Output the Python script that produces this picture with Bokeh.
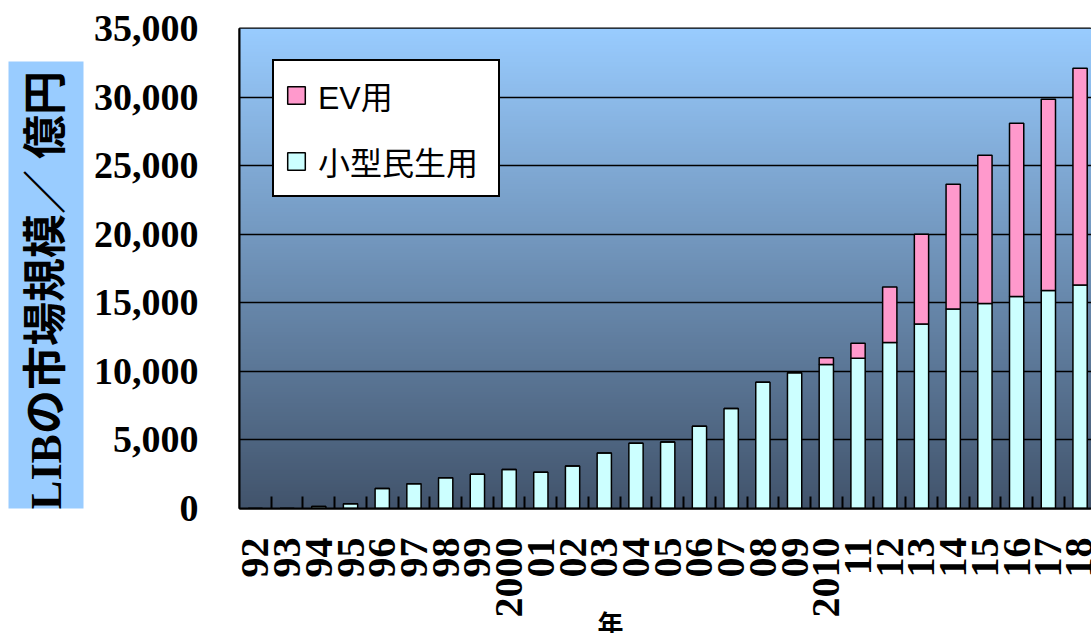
import numpy as np
from math import pi
from bokeh.plotting import figure
from bokeh.layouts import row
from bokeh.models import Range1d, FixedTicker, NumeralTickFormatter, Legend, LegendItem, ColumnDataSource, Title
from bokeh.core.properties import value
from bokeh.embed import file_html
from bokeh.resources import INLINE

years = ["92", "93", "94", "95", "96", "97", "98", "99", "2000", "01", "02", "03", "04",
         "05", "06", "07", "08", "09", "2010", "11", "12", "13", "14", "15", "16", "17", "18"]
small = [0, 0, 150, 350, 1450, 1800, 2250, 2500, 2850, 2650, 3100, 4050, 4750,
         4850, 6000, 7300, 9200, 9900, 10500, 10950, 12100, 13450, 14550, 14950, 15450, 15900, 16300]
ev = [0, 0, 0, 0, 0, 0, 0, 0, 0, 0, 0, 0, 0,
      0, 0, 0, 0, 0, 500, 1100, 4050, 6550, 9100, 10800, 12650, 13950, 15800]
yticks = [0, 5000, 10000, 15000, 20000, 25000, 30000, 35000]
series_names = ["EV用", "小型民生用"]
ylabel = "LIBの市場規模／ 億円"
xlabel = "年"

W, H = 1091, 633
LW = 85            # width of the y-title strip
FT, FB = 28, 508   # frame top / bottom in page pixels

# ---------- y-title strip (light-blue box with vertical text) ----------
# its frame is aligned with the main chart's frame, so map y to page pixels
q = figure(width=LW, height=H, output_backend="svg", toolbar_location=None,
           x_range=Range1d(0, LW), y_range=Range1d(H - FB, H - FT),
           x_axis_location=None, y_axis_location=None,
           min_border_left=0, min_border_right=0, min_border_top=FT, min_border_bottom=H - FB)
q.outline_line_color = None
q.border_fill_color = "white"
q.background_fill_color = "white"
q.xgrid.visible = False
q.ygrid.visible = False
q.quad(left=[8], right=[83], bottom=[H - 516], top=[H - 61], fill_color="#99ccff", line_color=None)
q.text(x=[45.5], y=[H - 290], text=[ylabel], angle=pi / 2, text_align="center", text_baseline="middle",
       text_font=value("Liberation Serif, Noto Sans CJK JP"), text_font_style="bold",
       text_font_size="44px", text_color="black")

# ---------- main chart ----------
xpos = [i + 0.5 for i in range(len(years))]
src = ColumnDataSource(dict(x=xpos, small=small, ev=ev))

XMAX = 26.86
p = figure(width=W - LW, height=H, output_backend="svg", toolbar_location=None,
           x_range=Range1d(0, XMAX), y_range=Range1d(0, 35000),
           min_border_left=239 - LW, min_border_right=0, min_border_top=FT, min_border_bottom=H - FB)
p.border_fill_color = "white"
p.outline_line_color = "black"
p.outline_line_width = 2

# gradient background
N = 256
top = np.array([153, 204, 255], dtype=float)
bot = np.array([66, 84, 108], dtype=float)
t = np.linspace(0, 1, N)[:, None]
rgb = bot + (top - bot) * t
img = np.empty((N, 1), dtype=np.uint32)
view = img.view(dtype=np.uint8).reshape((N, 1, 4))
view[:, 0, 0] = rgb[:, 0].astype(np.uint8)
view[:, 0, 1] = rgb[:, 1].astype(np.uint8)
view[:, 0, 2] = rgb[:, 2].astype(np.uint8)
view[:, 0, 3] = 255
p.image_rgba(image=[img], x=0, y=0, dw=XMAX, dh=35000, level="image")

rs = p.vbar_stack(["small", "ev"], x="x", width=0.45, source=src,
                  fill_color=["#ccffff", "#ff99cc"], line_color="black", line_width=1.5)

# grid
p.xgrid.grid_line_color = None
p.ygrid.grid_line_color = "black"
p.ygrid.grid_line_width = 1.5
p.ygrid.ticker = FixedTicker(ticks=yticks)

# y axis
p.yaxis.ticker = FixedTicker(ticks=yticks)
p.yaxis.formatter = NumeralTickFormatter(format="0,0")
p.yaxis.major_tick_line_color = None
p.yaxis.minor_tick_line_color = None
p.yaxis.axis_line_color = "black"
p.yaxis.axis_line_width = 2
p.yaxis.major_label_text_font = "Liberation Serif"
p.yaxis.major_label_text_font_style = "bold"
p.yaxis.major_label_text_font_size = "38px"
p.yaxis.major_label_text_color = "black"
p.yaxis.major_label_standoff = 35

# x axis
p.xaxis.ticker = FixedTicker(ticks=xpos, minor_ticks=list(range(1, len(years))))
p.xaxis.major_label_overrides = {x: lab for x, lab in zip(xpos, years)}
p.xaxis.major_tick_line_color = None
p.xaxis.minor_tick_line_color = "black"
p.xaxis.minor_tick_line_width = 2
p.xaxis.minor_tick_in = 12
p.xaxis.minor_tick_out = 0
p.xaxis.axis_line_color = "black"
p.xaxis.axis_line_width = 2
p.xaxis.major_label_orientation = pi / 2
p.xaxis.major_label_text_font = "Liberation Serif"
p.xaxis.major_label_text_font_style = "bold"
p.xaxis.major_label_text_font_size = "40px"
p.xaxis.major_label_text_color = "black"
p.xaxis.major_label_standoff = 23

# x title "年"
p.add_layout(Title(text=xlabel, align="left", offset=358, standoff=-41,
                   text_font="Noto Sans CJK JP", text_font_style="bold",
                   text_font_size="26px", text_color="black"), "below")

# legend
legend = Legend(items=[LegendItem(label=series_names[0], renderers=[rs[1]]),
                       LegendItem(label=series_names[1], renderers=[rs[0]])],
                location=(33, 311))
legend.label_text_font = "Liberation Sans, Noto Sans CJK JP"
legend.label_text_font_size = "32px"
legend.label_text_color = "black"
legend.glyph_width = 22
legend.glyph_height = 22
legend.label_height = 36
legend.label_width = 169
legend.label_standoff = 11
legend.spacing = 20
legend.padding = 11
legend.margin = 0
legend.border_line_color = "black"
legend.border_line_width = 2
legend.border_line_alpha = 1
legend.background_fill_color = "white"
legend.background_fill_alpha = 1
p.add_layout(legend)

layout = row(q, p, spacing=0)
open("out.html", "w").write(file_html(layout, INLINE))
